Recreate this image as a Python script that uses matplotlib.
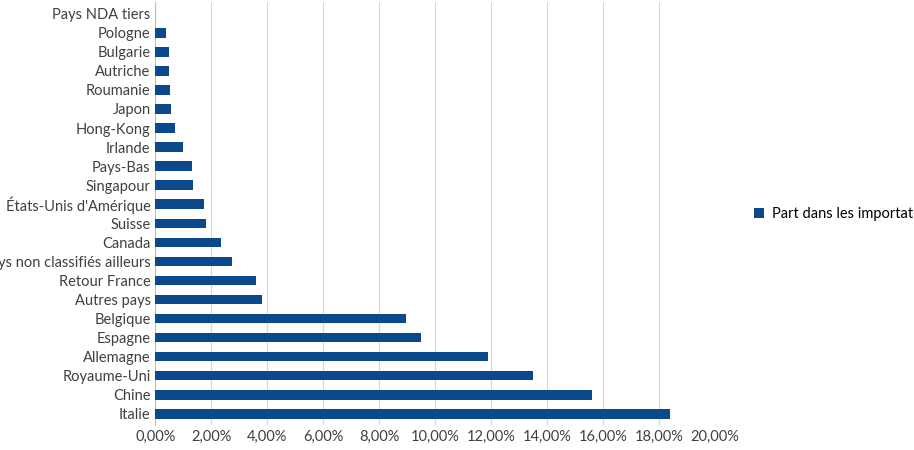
import matplotlib
matplotlib.use("Agg")
import matplotlib.pyplot as plt
from matplotlib.ticker import FuncFormatter

plt.rcParams['font.family'] = ['Lato', 'DejaVu Sans']

pays = ['Italie', 'Chine', 'Royaume-Uni', 'Allemagne', 'Espagne', 'Belgique',
        'Autres pays', 'Retour France', 'Pays non classifiés ailleurs', 'Canada',
        'Suisse', "États-Unis d'Amérique", 'Singapour', 'Pays-Bas', 'Irlande',
        'Hong-Kong', 'Japon', 'Roumanie', 'Autriche', 'Bulgarie', 'Pologne',
        'Pays NDA tiers']
parts = [18.4, 15.6, 13.5, 11.9, 9.5, 8.95, 3.8, 3.6, 2.75, 2.35, 1.8, 1.75,
         1.35, 1.3, 1.0, 0.7, 0.55, 0.52, 0.5, 0.48, 0.38, 0.0]

fig = plt.figure(figsize=(9.14, 4.5), dpi=100)
ax = fig.add_axes([0.17, 0.055, 0.612, 0.94])
ax.barh(range(len(pays)), parts, height=0.5, color='#0a4a8c',
        label='Part dans les importations', zorder=3)
ax.set_yticks(range(len(pays)))
ax.set_yticklabels(pays)
ax.set_ylim(-0.6, len(pays) - 0.4)
ax.set_xlim(0, 20)
ax.set_xticks(range(0, 21, 2))
ax.xaxis.set_major_formatter(FuncFormatter(lambda v, p: f'{v:.2f}%'.replace('.', ',')))
ax.grid(axis='x', color='#d9d9d9', linewidth=0.8, zorder=0)
for s in ['top', 'right', 'bottom']:
    ax.spines[s].set_visible(False)
ax.spines['left'].set_color('#bfbfbf')
ax.tick_params(length=0, labelsize=10.5, colors='#404040')
ax.legend(loc='center left', bbox_to_anchor=(1.06, 0.5), frameon=False,
          fontsize=10.5, handlelength=0.7, handleheight=0.7, handletextpad=0.5,
          borderaxespad=0)
fig.savefig('out.png')
